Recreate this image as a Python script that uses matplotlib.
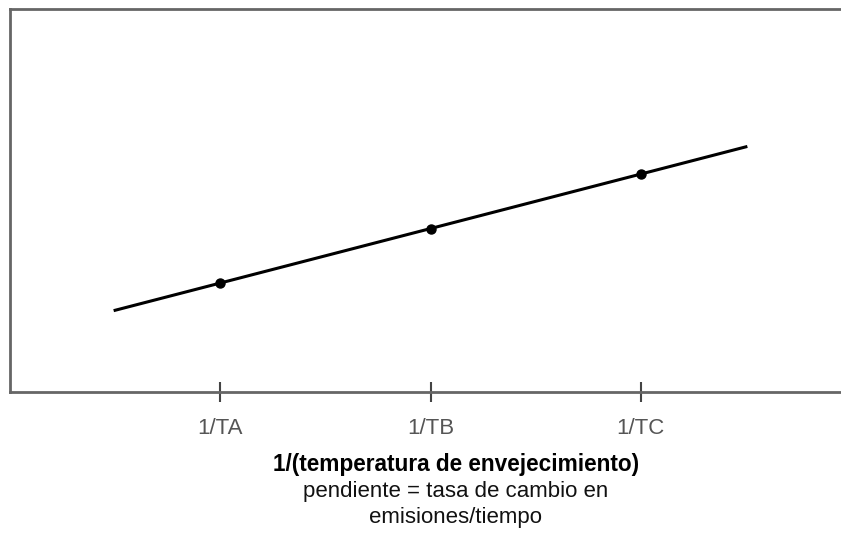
import numpy as np
import matplotlib
matplotlib.use('Agg')
import matplotlib.pyplot as plt

plt.rcParams['font.family'] = ['Liberation Sans', 'DejaVu Sans']

# datos
categorias = ['1/TA', '1/TB', '1/TC']
x_pos = [1, 2, 3]
y_val = [1, 2, 3]
x_linea = [0.5, 3.5]  # extension de la recta de ajuste

# recta por los puntos
b1, b0 = np.polyfit(x_pos, y_val, 1)
y_linea = [b0 + b1 * x for x in x_linea]

fig = plt.figure(figsize=(8.41, 5.33), dpi=100)
ax = fig.add_axes([10 / 841, 141 / 533, 0.995, 383 / 533])

ax.plot(x_linea, y_linea, color='black', lw=2.2)
ax.plot(x_pos, y_val, 'o', color='black', ms=6.5)

ax.set_xlim(0.0, 3.98)
ax.set_ylim(-1.0, 6.03)

ax.set_xticks(x_pos)
ax.set_xticklabels(categorias, fontsize=16, color='#555555')
ax.set_yticks([])
ax.tick_params(axis='x', direction='inout', length=14, width=1.5, color='#444444', pad=12)

for s in ['left', 'top', 'bottom']:
    ax.spines[s].set_color('#666666')
    ax.spines[s].set_linewidth(2)
ax.spines['right'].set_visible(False)

fig.text(456 / 841, 1 - 464 / 533, '1/(temperatura de envejecimiento)', ha='center', va='center',
         fontsize=16.3, fontweight='bold', color='black')
fig.text(456 / 841, 1 - 491 / 533, 'pendiente = tasa de cambio en', ha='center', va='center',
         fontsize=16, color='#111111')
fig.text(456 / 841, 1 - 517 / 533, 'emisiones/tiempo', ha='center', va='center',
         fontsize=16, color='#111111')

fig.savefig('out.png', dpi=100)
